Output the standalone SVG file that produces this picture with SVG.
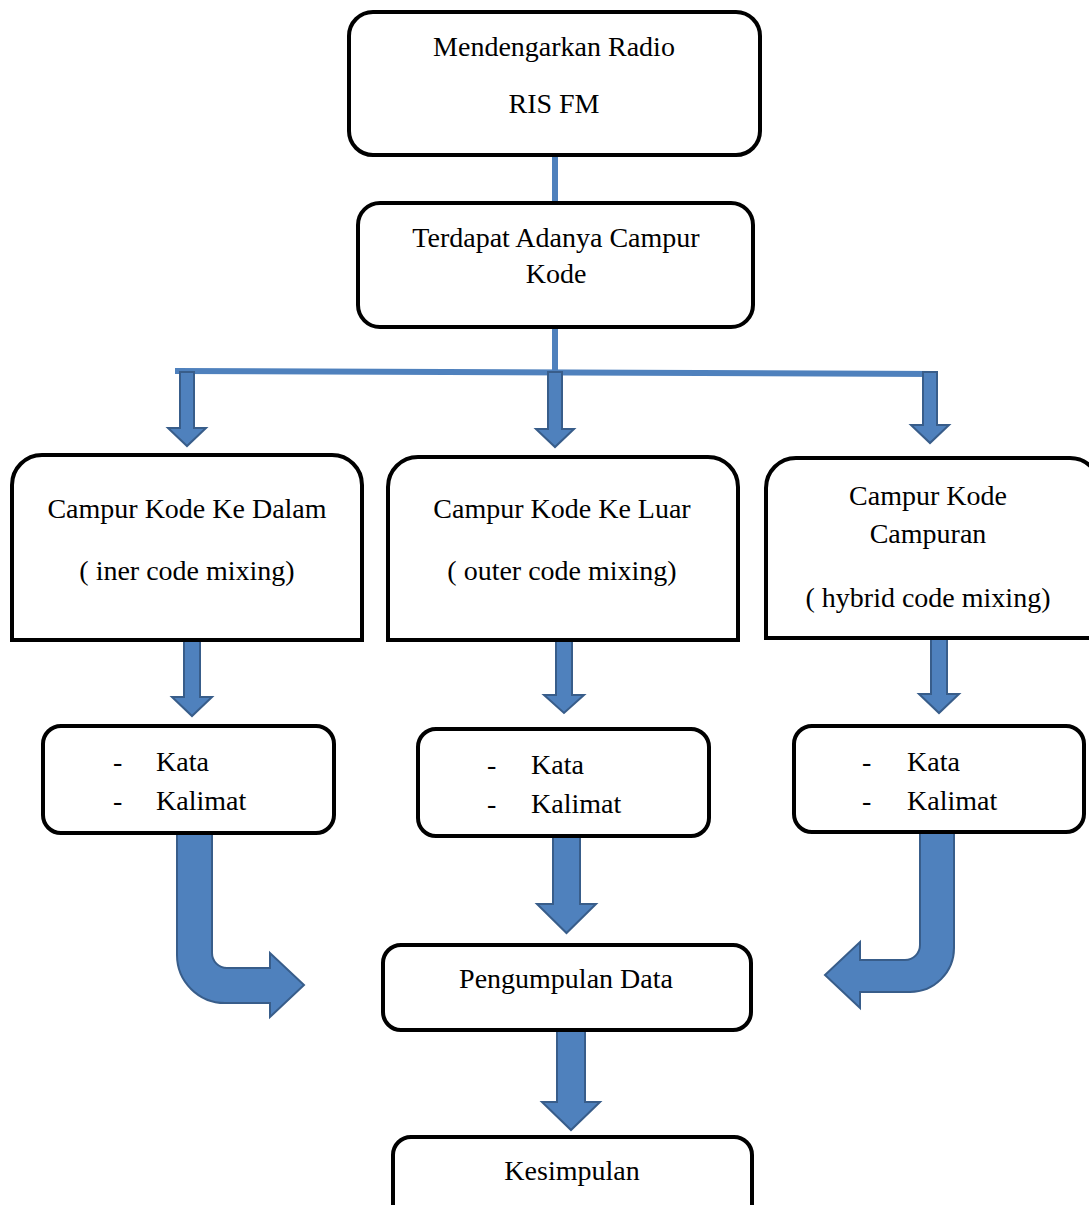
<svg xmlns="http://www.w3.org/2000/svg" width="1089" height="1205" viewBox="0 0 1089 1205">
<style>
.box{fill:#fff;stroke:#000;stroke-width:4}
.t{font-family:"Liberation Serif","Times New Roman",serif;font-size:28px;fill:#000}
.c{text-anchor:middle}
.ln{fill:none;stroke:#4f81bd;stroke-width:6}
.ar{fill:#4f81bd;stroke:#385d8a;stroke-width:2;stroke-linejoin:miter}
</style>
<rect width="1089" height="1205" fill="#fff"/>
<g id="connectors">
<path class="ln" d="M555 155 L555 203"/>
<path class="ln" d="M555 328 L555 372"/>
<path class="ln" d="M175 371 L937 374"/>
<path class="ar" d="M180 372 H194 V428 H206 L187 446 L168 428 H180 Z"/>
<path class="ar" d="M548 372 H562 V429 H574 L555 447 L536 429 H548 Z"/>
<path class="ar" d="M923 372 H937 V425 H949 L930 443 L911 425 H923 Z"/>
<path class="ar" d="M184 640 H200 V697 H212 L192 716 L172 697 H184 Z"/>
<path class="ar" d="M556 640 H572 V695 H584 L564 713 L544 695 H556 Z"/>
<path class="ar" d="M931 638 H947 V694 H959 L939 713 L919 694 H931 Z"/>
<path class="ar" d="M553 837 H580 V904 H596 L566.5 933 L537 904 H553 Z"/>
<path class="ar" d="M557 1030 H585 V1102 H600 L571 1130 L542 1102 H557 Z"/>
<path class="ar" d="M177 833 H212 V953 A15 15 0 0 0 227 968 H270 V953 L304 985 L270 1017 V1003 H225 A48 48 0 0 1 177 955 Z"/>
<path class="ar" d="M954 833 H920 V945 A15 15 0 0 1 905 960 H860 V942 L825 975 L860 1008 V992 H910 A44 44 0 0 0 954 948 Z"/>
</g>
<g id="n-radio">
<rect class="box" x="349" y="12" width="411" height="143" rx="24"/>
<text class="t c" x="554" y="56">Mendengarkan Radio</text>
<text class="t c" x="554" y="113">RIS FM</text>
</g>
<g id="n-campur">
<rect class="box" x="358" y="203" width="395" height="124" rx="22"/>
<text class="t c" x="556" y="247">Terdapat Adanya Campur</text>
<text class="t c" x="556" y="283">Kode</text>
</g>
<g id="n-dalam">
<path class="box" d="M12 640 V485 A30 30 0 0 1 42 455 H332 A30 30 0 0 1 362 485 V640 Z"/>
<text class="t c" x="187" y="518">Campur Kode Ke Dalam</text>
<text class="t c" x="187" y="580">( iner code mixing)</text>
</g>
<g id="n-luar">
<path class="box" d="M388 640 V487 A30 30 0 0 1 418 457 H708 A30 30 0 0 1 738 487 V640 Z"/>
<text class="t c" x="562" y="518">Campur Kode Ke Luar</text>
<text class="t c" x="562" y="580">( outer code mixing)</text>
</g>
<g id="n-hybrid">
<path class="box" d="M766 638 V488 A30 30 0 0 1 796 458 H1070 A30 30 0 0 1 1100 488 V638 Z"/>
<text class="t c" x="928" y="505">Campur Kode</text>
<text class="t c" x="928" y="543">Campuran</text>
<text class="t c" x="928" y="607">( hybrid code mixing)</text>
</g>
<g id="n-kata1">
<rect class="box" x="43" y="726" width="291" height="107" rx="18"/>
<text class="t" x="113" y="771">-</text>
<text class="t" x="156" y="771">Kata</text>
<text class="t" x="113" y="810">-</text>
<text class="t" x="156" y="810">Kalimat</text>
</g>
<g id="n-kata2">
<rect class="box" x="418" y="729" width="291" height="107" rx="18"/>
<text class="t" x="487" y="774">-</text>
<text class="t" x="531" y="774">Kata</text>
<text class="t" x="487" y="813">-</text>
<text class="t" x="531" y="813">Kalimat</text>
</g>
<g id="n-kata3">
<rect class="box" x="794" y="726" width="290" height="106" rx="18"/>
<text class="t" x="862" y="771">-</text>
<text class="t" x="907" y="771">Kata</text>
<text class="t" x="862" y="810">-</text>
<text class="t" x="907" y="810">Kalimat</text>
</g>
<g id="n-data">
<rect class="box" x="383" y="945" width="368" height="85" rx="18"/>
<text class="t c" x="566" y="988">Pengumpulan Data</text>
</g>
<g id="n-kesimpulan">
<rect class="box" x="393" y="1137" width="359" height="100" rx="18"/>
<text class="t c" x="572" y="1180">Kesimpulan</text>
</g>
</svg>
